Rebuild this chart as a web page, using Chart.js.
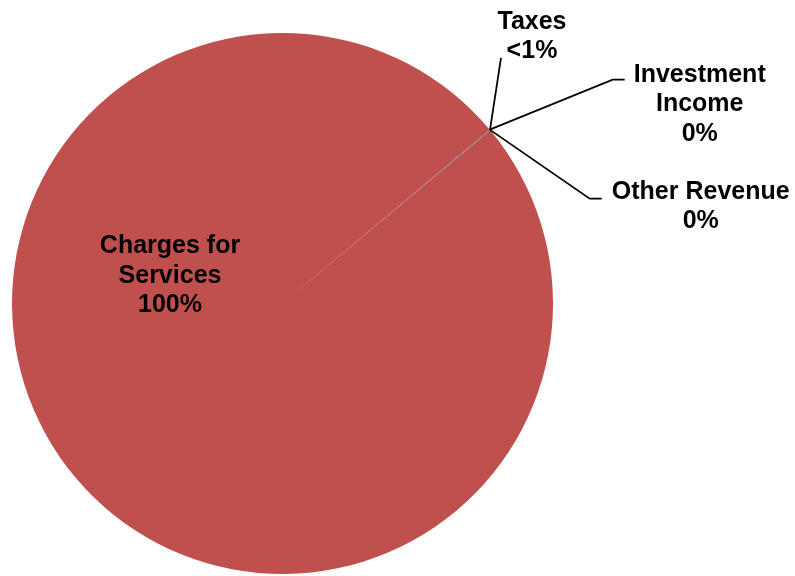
<!DOCTYPE html>
<html lang="en">
<head>
  <meta charset="UTF-8" />
  <title>Revenue by Source</title>
  <script src="https://cdn.jsdelivr.net/npm/chart.js@4"></script>
  <style>
    html, body { margin: 0; padding: 0; background: #fff; }
    .wrap { width: 795px; height: 576px; position: relative; }
  </style>
</head>
<body>
  <div class="wrap">
    <canvas id="revenueChart"></canvas>
  </div>

  <script>
    // revenue sources, share of total (%)
    const categories = [['Taxes'], ['Charges for', 'Services'], ['Investment', 'Income'], ['Other Revenue']];
    const shares = [0.05, 99.95, 0, 0];
    const sliceColors = ['#4F81BD', '#C0504D', '#9BBB59', '#8064A2'];

    function pctText(v) {
      if (v === 0) return '0%';
      if (v < 1) return '<1%';
      return Math.round(v) + '%';
    }

    // where each label sits relative to its anchor, plus the leader line bends
    // Charges label is placed inside the pie relative to the center
    const labelSpots = [
      { dx: 42,  dy: -101, line: [[11, -72]] },
      { inside: true, dx: -112.5, dy: -50.5 },
      { dx: 210, dy: -48,  line: [[123, -50], [135, -50]] },
      { dx: 211, dy: 69,   line: [[100, 69], [112, 69]] }
    ];

    const pieLabels = {
      id: 'pieLabels',
      afterDatasetsDraw(chart) {
        const ctx = chart.ctx;
        const arcs = chart.getDatasetMeta(0).data;
        const total = shares.reduce((a, b) => a + b, 0);
        ctx.save();
        ctx.font = 'bold 25px "Liberation Sans", Arial, sans-serif';
        ctx.textAlign = 'center';
        ctx.textBaseline = 'alphabetic';
        ctx.fillStyle = '#000';
        ctx.strokeStyle = '#000';
        ctx.lineWidth = 1.75;
        arcs.forEach((arc, i) => {
          const spot = labelSpots[i];
          const lines = categories[i].concat(pctText(shares[i] / total * 100));
          let ax, ay;
          if (spot.inside) {
            ax = arc.x; ay = arc.y;
          } else {
            const mid = (arc.startAngle + arc.endAngle) / 2;
            ax = arc.x + Math.cos(mid) * arc.outerRadius;
            ay = arc.y + Math.sin(mid) * arc.outerRadius;
            ctx.beginPath();
            ctx.moveTo(ax, ay);
            spot.line.forEach(p => ctx.lineTo(ax + p[0], ay + p[1]));
            ctx.stroke();
          }
          lines.forEach((t, k) => {
            ctx.fillText(t, ax + spot.dx, ay + spot.dy + k * 29.5);
          });
        });
        ctx.restore();
      }
    };

    new Chart(document.getElementById('revenueChart'), {
      type: 'pie',
      data: {
        labels: categories,
        datasets: [{
          data: shares,
          backgroundColor: sliceColors,
          borderWidth: 0
        }]
      },
      options: {
        responsive: true,
        maintainAspectRatio: false,
        animation: false,
        rotation: 50,
        layout: { padding: { left: 12, right: 242, top: 33, bottom: 2 } },
        plugins: {
          legend: { display: false },
          tooltip: { enabled: false }
        }
      },
      plugins: [pieLabels]
    });
  </script>
</body>
</html>
